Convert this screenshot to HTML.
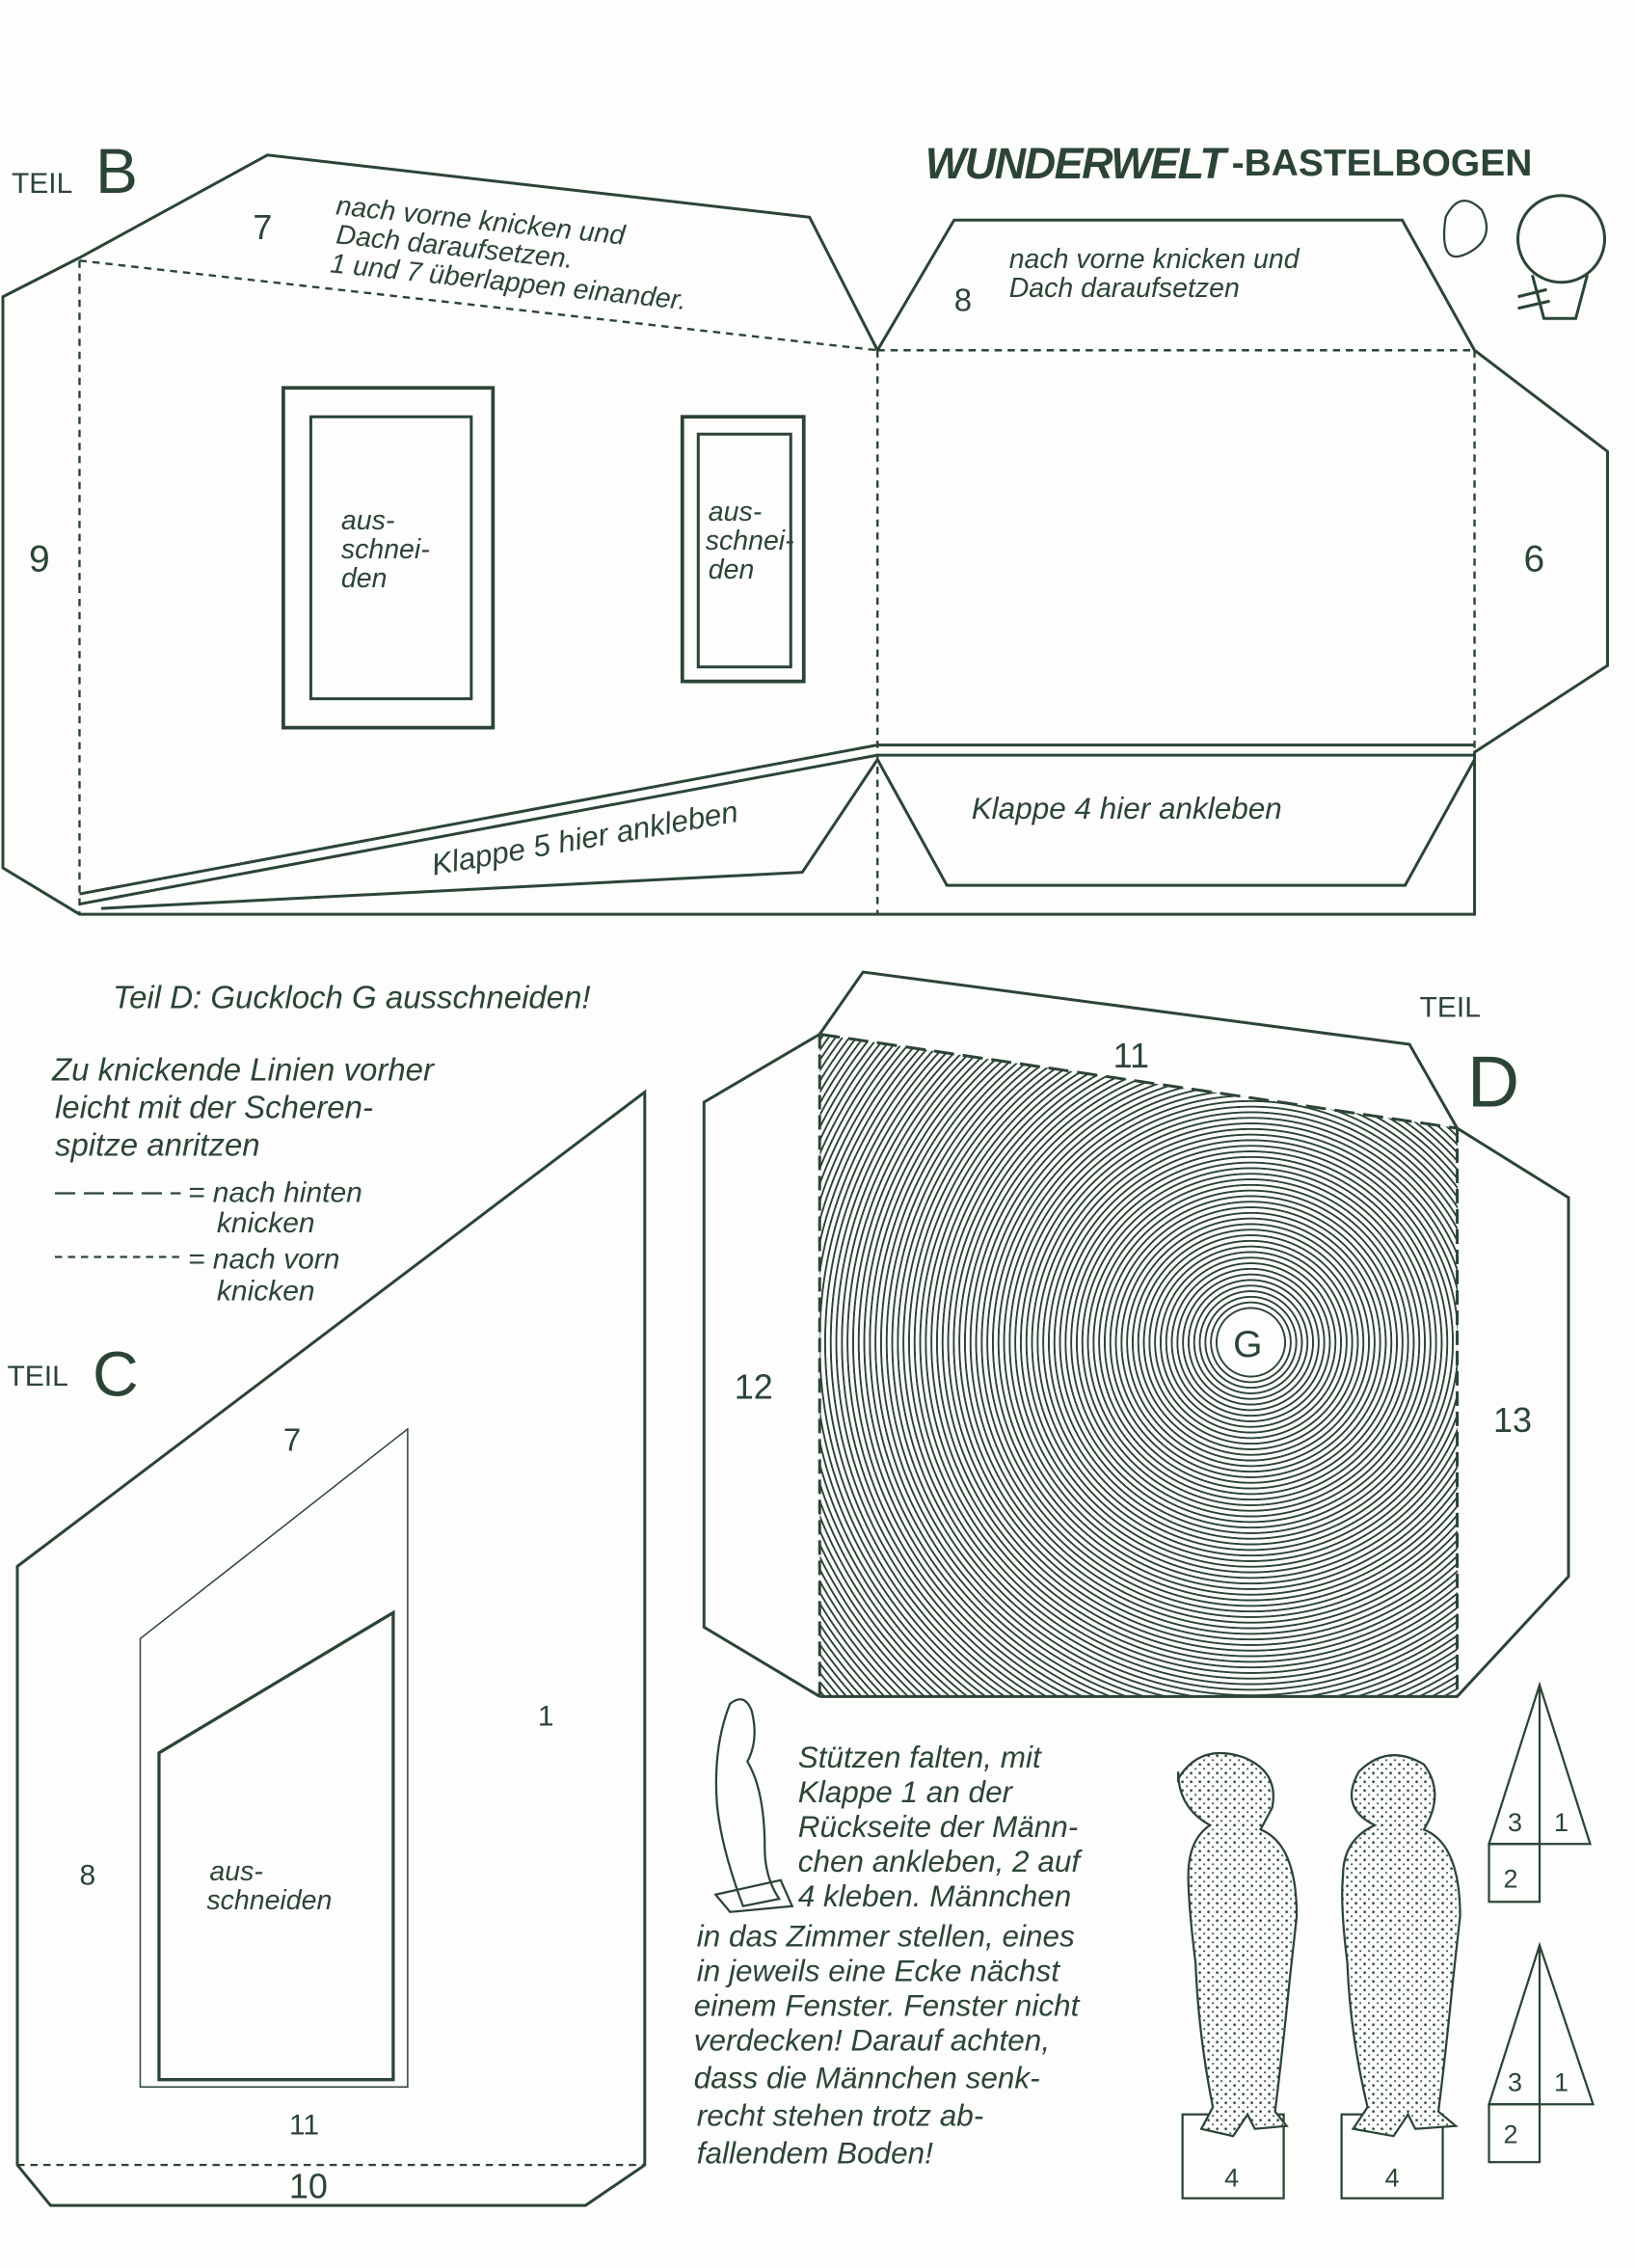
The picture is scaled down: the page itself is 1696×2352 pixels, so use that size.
<!DOCTYPE html>
<html><head><meta charset="utf-8"><style>
html,body{margin:0;padding:0;background:#fdfdfb;}
svg{display:block;position:absolute;left:0;top:0}
#rings{position:absolute;left:0;top:0;width:1696px;height:2352px;
clip-path:polygon(850.5px 1072.5px,1512px 1170px,1512px 1759.5px,850.5px 1759.5px);
background:radial-gradient(circle at 1297.5px 1392px,#fdfdfb 0 33px,transparent 34px),
repeating-radial-gradient(circle at 1297.5px 1392px,#2c4438 0 1.5px,#fdfdfb 1.9px 5.4px,#2c4438 5.8px);}
text{font-family:"Liberation Sans",sans-serif;fill:#2c4438;}
</style></head><body>
<div id="rings"></div>
<svg width="1696" height="2352" viewBox="0 0 1131 1568" xmlns="http://www.w3.org/2000/svg">
<defs>
<pattern id="dots" width="6" height="6" patternUnits="userSpaceOnUse">
<rect width="6" height="6" fill="#fdfdfb"/><circle cx="2" cy="2" r="0.9" fill="#2c4438"/><circle cx="5" cy="5" r="0.7" fill="#2c4438"/>
</pattern>
</defs>
<g fill="none" stroke="#2c4438" stroke-width="2">
<polygon points="2,205 55,178 185,107 560,150 607,242 660,152 970,152 1020,242 1112,312 1112,460 1020,520 1020,632 55,632 2,600"/>
<g stroke-dasharray="5,4" stroke-width="1.6">
<line x1="55" y1="180" x2="607" y2="242"/>
<line x1="607" y1="242" x2="1020" y2="242"/>
<line x1="55" y1="180" x2="55" y2="632"/>
<line x1="607" y1="242" x2="607" y2="632"/>
<line x1="1020" y1="242" x2="1020" y2="520"/>
</g>
<polyline points="55,618 607,515 1020,515"/>
<polyline points="55,625 607,522 1020,522"/>
<polyline points="607,525 555,603 70,628"/>
<polyline points="607,525 655,612 972,612 1020,525"/>
<rect x="196" y="268" width="145" height="235" stroke-width="2.5"/>
<rect x="215" y="288" width="111" height="195"/>
<rect x="472" y="288" width="84" height="183" stroke-width="2.5"/>
<rect x="483" y="300" width="64" height="161"/>
<polyline points="567,715 487,762 487,1125 567,1173"/>
<polyline points="567,715 597,672 975,722 1008,780 1085,828 1085,1090 1008,1173 567,1173"/>
<line x1="567" y1="715" x2="1008" y2="780" stroke-dasharray="14,6"/>
<line x1="567" y1="715" x2="567" y2="1173" stroke-dasharray="10,4"/>
<line x1="1008" y1="780" x2="1008" y2="1173" stroke-dasharray="10,4"/>
<polygon points="12,1083 446,755 446,1497 405,1525 35,1525 12,1497"/>
<line x1="12" y1="1497" x2="446" y2="1497" stroke-dasharray="5,4" stroke-width="1.5"/>
<polygon points="97,1133 282,988 282,1443 97,1443" stroke-width="1"/>
<polygon points="110,1212 272,1115 272,1438 110,1438" stroke-width="2.2"/>
<line x1="38" y1="825" x2="125" y2="825" stroke-dasharray="14,6" stroke-width="1.5"/>
<line x1="38" y1="869" x2="125" y2="869" stroke-dasharray="5,4" stroke-width="1.5"/>
<polygon points="1030,1275 1065,1165 1100,1275" stroke-width="1.5"/>
<rect x="1030" y="1275" width="35" height="40" stroke-width="1.5"/>
<line x1="1065" y1="1165" x2="1065" y2="1275" stroke-width="1.5"/>
<polygon points="1030,1455 1065,1345 1102,1455" stroke-width="1.5"/>
<rect x="1030" y="1455" width="35" height="40" stroke-width="1.5"/>
<line x1="1065" y1="1345" x2="1065" y2="1455" stroke-width="1.5"/>
<rect x="818" y="1462" width="70" height="58" stroke-width="1.5"/>
<rect x="928" y="1462" width="70" height="58" stroke-width="1.5"/>
<g stroke-width="1.5" fill="url(#dots)">
<path d="M815,1230 q15,-25 45,-15 q25,10 20,35 l-8,15 q25,10 25,60 l-5,45 q-5,50 -10,90 l8,10 -22,2 -5,-10 -10,15 -22,-5 8,-15 q-10,-50 -12,-100 q-5,-40 -5,-60 q0,-25 15,-35 q-22,-12 -22,-37z"/>
<path d="M940,1225 q20,-20 45,-5 q15,20 0,45 q25,10 25,60 l-5,45 q-5,50 -10,90 l12,10 -28,2 -5,-10 -10,15 -28,-5 10,-15 q-12,-50 -14,-100 q-5,-40 -3,-60 q0,-25 22,-35 q-25,-12 -11,-37z"/>
</g>
<path d="M505,1178 q10,-8 15,5 q5,20 -3,35 q12,20 12,60 q0,20 10,35 l-25,5 q-15,-40 -18,-70 q-3,-40 9,-70z" stroke-width="1.5"/>
<polygon points="495,1310 540,1300 548,1318 505,1322" stroke-width="1.5"/>
<circle cx="1080" cy="165" r="30" stroke-width="2"/>
<path d="M1060,190 l8,30 22,0 8,-30" stroke-width="2"/>
<line x1="1050" y1="205" x2="1070" y2="200"/><line x1="1050" y1="213" x2="1072" y2="208"/>
<path d="M1000,150 q10,-20 25,-5 q10,20 -10,30 q-20,10 -15,-25z" stroke-width="1.5"/>
</g>
<g font-family="Liberation Sans" fill="#2c4438">
<text x="8" y="133" font-size="20">TEIL</text><text x="66" y="133" font-size="44">B</text>
<text x="640" y="123" font-size="30" font-weight="bold" font-style="italic" letter-spacing="-1">WUNDERWELT</text>
<text x="852" y="121" font-size="26" font-weight="bold">-BASTELBOGEN</text>
<text x="175" y="165" font-size="24">7</text>
<g font-size="19" font-style="italic">
<text x="232" y="148" transform="rotate(6 232 148)">nach vorne knicken und</text>
<text x="232" y="168" transform="rotate(6 232 168)">Dach daraufsetzen.</text>
<text x="228" y="188" transform="rotate(6 228 188)">1 und 7 überlappen einander.</text>
<text x="698" y="185">nach vorne knicken und</text>
<text x="698" y="205">Dach daraufsetzen</text>
<text x="300" y="605" font-size="21" transform="rotate(-10 300 605)">Klappe 5 hier ankleben</text>
<text x="672" y="566" font-size="21">Klappe 4 hier ankleben</text>
<text x="236" y="366">aus-</text><text x="236" y="386">schnei-</text><text x="236" y="406">den</text>
<text x="490" y="360">aus-</text><text x="488" y="380">schnei-</text><text x="490" y="400">den</text>
</g>
<text x="660" y="215" font-size="22">8</text>
<text x="20" y="395" font-size="26">9</text>
<text x="1054" y="395" font-size="26">6</text>
<g font-size="22" font-style="italic">
<text x="78" y="697">Teil D:   Guckloch G ausschneiden!</text>
<text x="36" y="747">Zu knickende Linien vorher</text>
<text x="38" y="773">leicht mit der Scheren-</text>
<text x="38" y="799">spitze anritzen</text>
<text x="130" y="831" font-size="20">= nach hinten</text>
<text x="150" y="852" font-size="20">knicken</text>
<text x="130" y="877" font-size="20">= nach vorn</text>
<text x="150" y="899" font-size="20">knicken</text>
</g>
<text x="982" y="703" font-size="20">TEIL</text>
<text x="1015" y="765" font-size="50">D</text>
<text x="770" y="738" font-size="24">11</text>
<text x="853" y="938" font-size="26">G</text>
<text x="508" y="967" font-size="24">12</text>
<text x="1033" y="990" font-size="24">13</text>
<text x="5" y="958" font-size="20">TEIL</text><text x="64" y="965" font-size="44">C</text>
<text x="196" y="1003" font-size="22">7</text>
<text x="372" y="1193" font-size="20">1</text>
<text x="55" y="1303" font-size="20">8</text>
<text x="145" y="1300" font-size="19" font-style="italic">aus-</text>
<text x="143" y="1320" font-size="19" font-style="italic">schneiden</text>
<text x="200" y="1476" font-size="20">11</text>
<text x="200" y="1520" font-size="24">10</text>
<g font-size="21" font-style="italic">
<text x="552" y="1222">Stützen falten, mit</text>
<text x="552" y="1246">Klappe 1 an der</text>
<text x="552" y="1270">Rückseite der Männ-</text>
<text x="552" y="1294">chen ankleben, 2 auf</text>
<text x="552" y="1318">4 kleben. Männchen</text>
<text x="482" y="1346">in das Zimmer stellen, eines</text>
<text x="482" y="1370">in jeweils eine Ecke nächst</text>
<text x="480" y="1394">einem Fenster. Fenster nicht</text>
<text x="480" y="1418">verdecken! Darauf achten,</text>
<text x="480" y="1444">dass die Männchen senk-</text>
<text x="482" y="1470">recht stehen trotz ab-</text>
<text x="482" y="1496">fallendem Boden!</text>
</g>
<g font-size="18">
<text x="1043" y="1266">3</text><text x="1075" y="1266">1</text><text x="1040" y="1305">2</text>
<text x="1043" y="1446">3</text><text x="1075" y="1446">1</text><text x="1040" y="1482">2</text>
<text x="847" y="1512">4</text><text x="958" y="1512">4</text>
</g>
</g>
</svg>
</body></html>
